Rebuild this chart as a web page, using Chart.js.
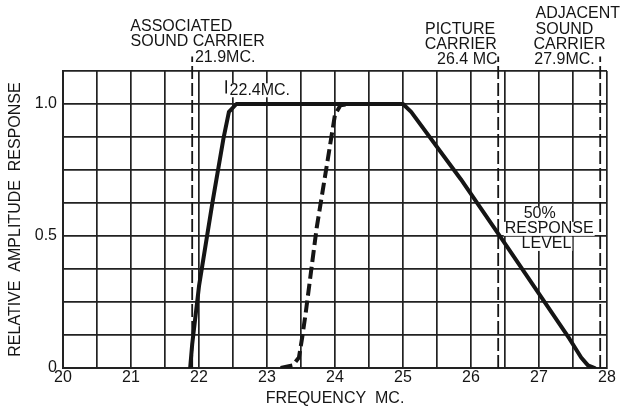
<!DOCTYPE html>
<html><head><meta charset="utf-8">
<script src="https://cdn.jsdelivr.net/npm/chart.js@4/dist/chart.umd.min.js"></script>
<style>html,body{margin:0;padding:0;background:#fff}</style>
</head><body>
<canvas id="c" width="620" height="408"></canvas>
<script>
// ---- data ----
const xTickValues = [20, 21, 22, 23, 24, 25, 26, 27, 28];
const yTickLabels = { 0: '0', 0.5: '0.5', 1: '1.0' };

const solidFreq = [21.87, 21.9, 22.0, 22.2, 22.36, 22.44, 22.55, 25.0, 25.12, 25.85, 26.45, 27.45, 27.62, 27.72, 27.82];
const solidResp = [0, 0.09, 0.31, 0.63, 0.87, 0.97, 1.0, 1.0, 0.97, 0.715, 0.49, 0.11, 0.04, 0.01, 0];

const dashedFreq = [23.2, 23.38, 23.47, 23.52, 23.57, 23.73, 23.9, 24.0, 24.08, 24.2];
const dashedResp = [0, 0.01, 0.04, 0.12, 0.21, 0.53, 0.8, 0.96, 0.995, 1.0];

const carrierFreq = [21.9, 26.4, 27.9];
const carrierTop = 1.18;
const markFreq = 22.4;
const markSpan = [1.04, 1.09];

const notes = [
  { text: 'ASSOCIATED', x: 21.74, y: 1.292, align: 'center' },
  { text: 'SOUND CARRIER', x: 21.98, y: 1.237, align: 'center' },
  { text: '21.9MC.', x: 21.94, y: 1.174, align: 'left' },
  { text: '22.4MC.', x: 22.45, y: 1.052, align: 'left', bg: true },
  { text: 'PICTURE', x: 25.84, y: 1.283, align: 'center' },
  { text: 'CARRIER', x: 25.85, y: 1.224, align: 'center' },
  { text: '26.4 MC', x: 26.39, y: 1.168, align: 'right' },
  { text: 'ADJACENT', x: 27.57, y: 1.342, align: 'center' },
  { text: 'SOUND', x: 26.95, y: 1.283, align: 'left' },
  { text: 'CARRIER', x: 26.92, y: 1.224, align: 'left' },
  { text: '27.9MC.', x: 26.93, y: 1.168, align: 'left' },
  { text: '50%', x: 27.01, y: 0.584, align: 'center', bg: true },
  { text: 'RESPONSE', x: 27.15, y: 0.527, align: 'center', bg: true },
  { text: 'LEVEL', x: 27.11, y: 0.47, align: 'center', bg: true }
];

// ---- build ----
const FONT = "'Liberation Sans', Arial, sans-serif";
const INK = '#151515';
const toPts = (xs, ys) => xs.map((x, i) => ({ x, y: ys[i] }));

const datasets = [
  { data: toPts(solidFreq, solidResp), borderColor: INK, borderWidth: 4, pointRadius: 0, tension: 0, fill: false, borderJoinStyle: 'round', borderCapStyle: 'round' },
  { data: toPts(dashedFreq, dashedResp), borderColor: INK, borderWidth: 4, borderDash: [12, 5], pointRadius: 0, tension: 0, fill: false }
];
carrierFreq.forEach(f => datasets.push({
  data: [{ x: f, y: 0 }, { x: f, y: carrierTop }], borderColor: INK, borderWidth: 1.8,
  borderDash: [13, 4], pointRadius: 0, clip: false, fill: false
}));
datasets.push({
  data: [{ x: markFreq, y: markSpan[0] }, { x: markFreq, y: markSpan[1] }], borderColor: INK,
  borderWidth: 1.6, pointRadius: 0, clip: false, fill: false
});

const notePlugin = {
  id: 'notes',
  afterDatasetsDraw(chart) {
    const { ctx, scales: { x, y } } = chart;
    ctx.save();
    ctx.font = '16px ' + FONT;
    ctx.textBaseline = 'middle';
    notes.forEach(n => {
      const px = x.getPixelForValue(n.x), py = y.getPixelForValue(n.y);
      const w = ctx.measureText(n.text).width;
      let left = n.align === 'left' ? px : n.align === 'right' ? px - w : px - w / 2;
      if (n.bg) { ctx.fillStyle = '#fff'; ctx.fillRect(left - 1, py - 7, w + 2, 14); }
      ctx.fillStyle = INK;
      ctx.textAlign = n.align;
      ctx.fillText(n.text, px, py);
    });
    ctx.restore();
  }
};

new Chart(document.getElementById('c'), {
  type: 'line',
  data: { datasets },
  plugins: [notePlugin],
  options: {
    responsive: false,
    animation: false,
    devicePixelRatio: 1,
    layout: { padding: { top: 71, right: 13, left: 0, bottom: 0 } },
    plugins: { legend: { display: false }, tooltip: { enabled: false } },
    scales: {
      x: {
        type: 'linear', min: 20, max: 28,
        afterFit: s => { s.height = 40; },
        afterBuildTicks: s => { s.ticks = []; for (let v = xTickValues[0]; v <= xTickValues[xTickValues.length - 1] + 1e-9; v += 0.5) s.ticks.push({ value: v }); },
        ticks: { autoSkip: false, maxRotation: 0, padding: 0, color: INK, font: { family: FONT, size: 16 },
          callback: v => xTickValues.includes(v) ? String(v) : '' },
        grid: { color: '#222', lineWidth: 1.7, drawTicks: false },
        border: { color: '#222', width: 2 },
        title: { display: true, text: 'FREQUENCY  MC.', color: INK, font: { family: FONT, size: 16 }, padding: { top: 0, bottom: 0 } }
      },
      y: {
        min: 0, max: 1.125,
        afterFit: s => { s.width = 63; },
        ticks: { stepSize: 0.125, autoSkip: false, padding: 6, color: INK, font: { family: FONT, size: 16 },
          callback: v => (yTickLabels[v] !== undefined ? yTickLabels[v] : '') },
        grid: { color: '#222', lineWidth: 1.7, drawTicks: false },
        border: { color: '#222', width: 2 },
        title: { display: true, text: 'RELATIVE  AMPLITUDE  RESPONSE', color: INK, font: { family: FONT, size: 16 }, padding: { top: 6, bottom: 0 } }
      }
    }
  }
});
</script>
</body></html>
